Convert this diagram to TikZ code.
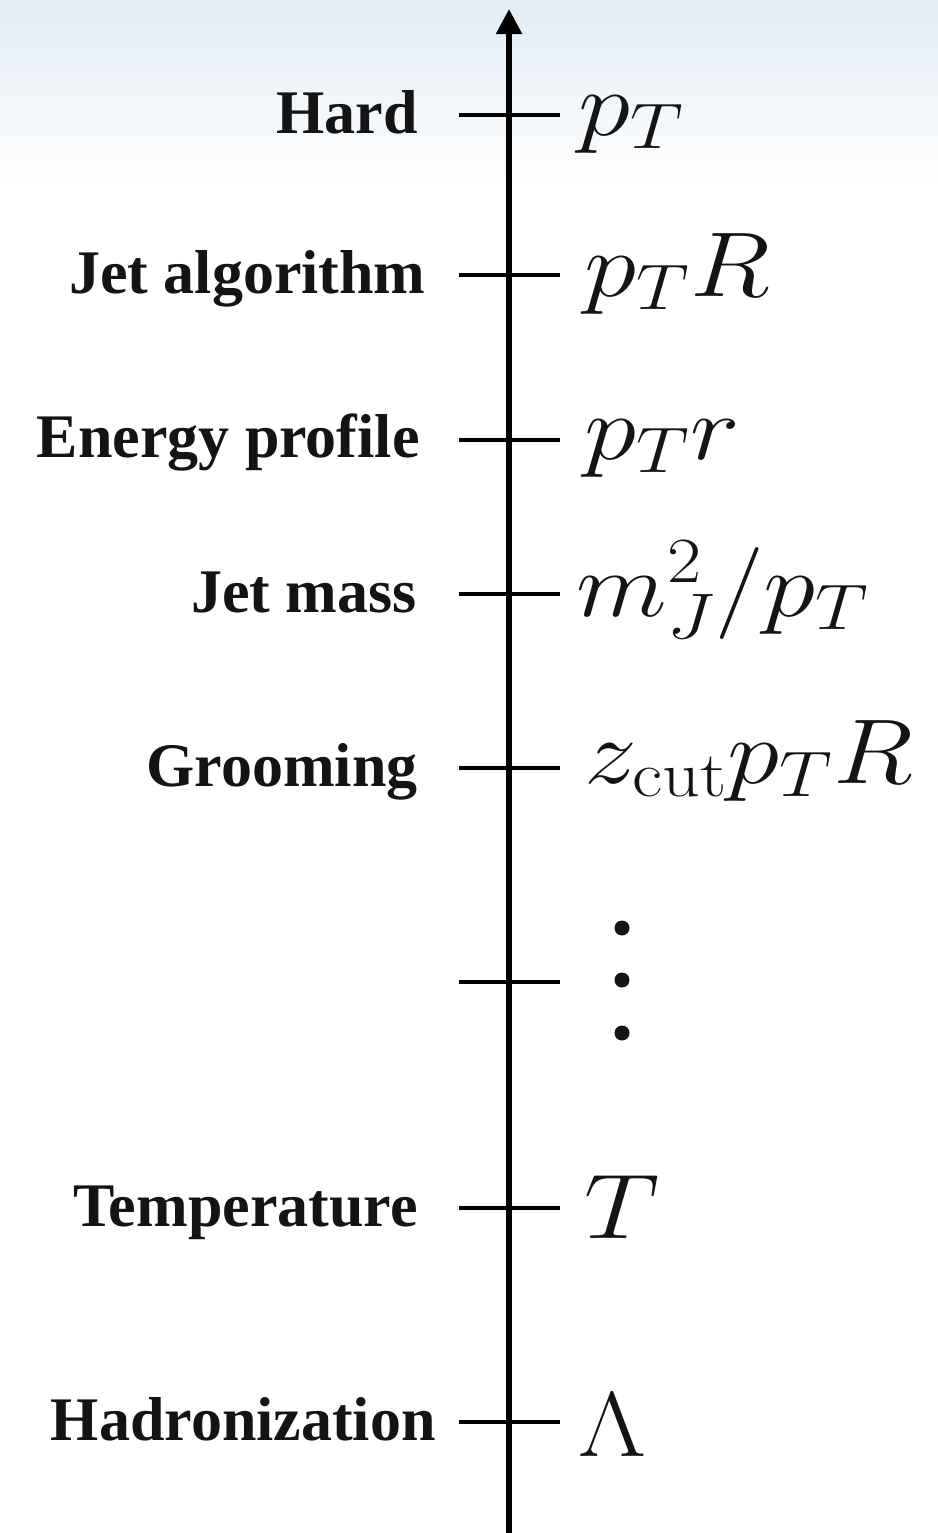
\RequirePackage{fix-cm}
\documentclass[tikz,border=0pt]{standalone}
\usepackage{fontspec}
\newfontfamily\labfont{Liberation Serif}
\usetikzlibrary{arrows.meta}
\definecolor{skyblue}{RGB}{226,236,245}
\definecolor{ink}{RGB}{20,20,20}
\newcommand{\wide}[1]{\scalebox{1.15}[1]{#1}}
\begin{document}
\begin{tikzpicture}[x=0.5pt,y=-0.5pt,
  lab/.style={font=\labfont\bfseries\fontsize{31}{36}\selectfont, anchor=base east, text=ink, inner sep=0pt},
  val/.style={font=\fontsize{46}{54}\selectfont, anchor=base west, text=ink, inner sep=0pt},
  tickline/.style={line width=2.3pt, draw=black},
  axisline/.style={line width=2.6pt, draw=black, -{Triangle[length=12.5pt,width=12.5pt]}},
  dotmark/.style={fill=ink, draw=none, circle, minimum size=7.5pt, inner sep=0pt}]
\useasboundingbox (0,0) rectangle (938,1533);
\shade[top color=skyblue, bottom color=white] (0,0) rectangle (938,190);
% axis
\coordinate (axbot) at (509,1540);
\coordinate (axtop) at (509,9);
\draw[axisline] (axbot) -- (axtop);
% ticks
\foreach \n/\y in {hard/115, alg/275, prof/440, mass/594, groom/768, blank/982, temp/1208, had/1422}{
  \coordinate (\n L) at (459,\y);
  \coordinate (\n R) at (560,\y);
  \draw[tickline] (\n L) -- (\n R);
}
% left labels
\node[lab] (lhard)  at (418,133)  {Hard};
\node[lab] (lalg)   at (426,293)  {Jet algorithm};
\node[lab] (lprof)  at (420,457)  {Energy profile};
\node[lab] (lmass)  at (417,612)  {Jet mass};
\node[lab] (lgroom) at (418,786)  {Grooming};
\node[lab] (ltemp)  at (418,1226) {Temperature};
\node[lab] (lhad)   at (436,1440) {Hadronization};
% right values
\node[val] (vhard)  at (578,135)  {\wide{$p_T$}};
\node[val] (valg)   at (584,296)  {\wide{$p_TR$}};
\node[val] (vprof)  at (584,459)  {\wide{$p_Tr$}};
\node[val] (vmass)  at (576,616)  {\wide{$m_J^2/p_T$}};
\node[val] (vgroom) at (584,783)  {\wide{$z_{\mathrm{cut}}p_TR$}};
\node[val] (vtemp)  at (584,1238) {\wide{$T$}};
\node[val] (vhad)   at (578,1456) {\wide{$\Lambda$}};
% vertical dots
\node[dotmark] (d1) at (622,928) {};
\node[dotmark] (d2) at (622,980) {};
\node[dotmark] (d3) at (622,1033) {};
\end{tikzpicture}
\end{document}
